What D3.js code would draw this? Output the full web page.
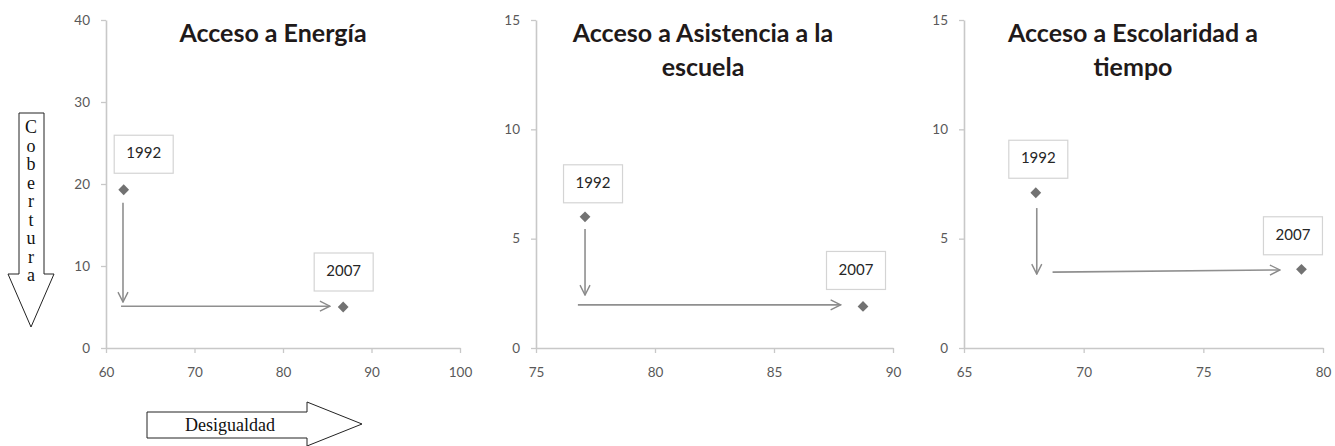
<!DOCTYPE html>
<html><head><meta charset="utf-8">
<script src="https://cdn.jsdelivr.net/npm/d3@7"></script>
<style>
html,body{margin:0;padding:0;background:#fff;}
svg{display:block;}
</style></head>
<body>
<svg id="chart" width="1335" height="446"></svg>
<script>
// ---- data ----
const years = ["1992", "2007"];
const titleEnergia = ["Acceso a Energía"];
const titleAsistencia = ["Acceso a Asistencia a la", "escuela"];
const titleEscolaridad = ["Acceso a Escolaridad a", "tiempo"];

const energiaX = [62.0, 86.8];
const energiaY = [19.3, 5.0];
const asistenciaX = [77.06, 88.74];
const asistenciaY = [6.0, 1.9];
const escolaridadX = [68.0, 79.1];
const escolaridadY = [7.1, 3.6];

const energiaXDomain = [60, 100], energiaYDomain = [0, 40];
const asistenciaXDomain = [75, 90], asistenciaYDomain = [0, 15];
const escolaridadXDomain = [65, 80], escolaridadYDomain = [0, 15];

const energiaXTicks = [60, 70, 80, 90, 100], energiaYTicks = [0, 10, 20, 30, 40];
const asistenciaXTicks = [75, 80, 85, 90], asistenciaYTicks = [0, 5, 10, 15];
const escolaridadXTicks = [65, 70, 75, 80], escolaridadYTicks = [0, 5, 10, 15];

// annotation arrows (data coords): [x1,y1,x2,y2]
const energiaArrows = [[61.92, 17.7, 61.92, 5.6], [61.7, 5.1, 85.3, 5.1]];
const asistenciaArrows = [[77.06, 5.44, 77.06, 2.42], [76.76, 1.97, 87.8, 1.97]];
const escolaridadArrows = [[68.04, 6.4, 68.04, 3.38], [68.7, 3.47, 78.2, 3.57]];

const axisLabelY = "Cobertura";
const axisLabelX = "Desigualdad";

// ---- layout ----
const panels = [
  {title: titleEnergia, xs: energiaX, ys: energiaY, xd: energiaXDomain, yd: energiaYDomain,
   xt: energiaXTicks, yt: energiaYTicks, arrows: energiaArrows,
   left: 106, right: 460, titleX: 273, labelOff: [[20, -35.5], [0.5, -35]]},
  {title: titleAsistencia, xs: asistenciaX, ys: asistenciaY, xd: asistenciaXDomain, yd: asistenciaYDomain,
   xt: asistenciaXTicks, yt: asistenciaYTicks, arrows: asistenciaArrows,
   left: 536, right: 893, titleX: 703, labelOff: [[8, -33], [-7, -36]]},
  {title: titleEscolaridad, xs: escolaridadX, ys: escolaridadY, xd: escolaridadXDomain, yd: escolaridadYDomain,
   xt: escolaridadXTicks, yt: escolaridadYTicks, arrows: escolaridadArrows,
   left: 964, right: 1323, titleX: 1133, labelOff: [[2.5, -33.5], [-8.5, -33.5]]}
];
const plotTop = 20, plotBottom = 348;
const sans = "Lato, 'Open Sans', sans-serif";
const serif = "'Liberation Serif', 'DejaVu Serif', serif";
const axisColor = "#c8c8c8", tickText = "#595959";

const svg = d3.select("#chart");
const defs = svg.append("defs");
defs.append("marker").attr("id", "ah").attr("viewBox", "0 0 12 12")
  .attr("refX", 11).attr("refY", 6).attr("markerWidth", 12).attr("markerHeight", 12)
  .attr("markerUnits", "userSpaceOnUse").attr("orient", "auto")
  .append("path").attr("d", "M1,1 L11,6 L1,11").attr("fill", "none")
  .attr("stroke", "#8a8a8a").attr("stroke-width", 1.4);

panels.forEach(p => {
  const x = d3.scaleLinear().domain(p.xd).range([p.left, p.right]);
  const y = d3.scaleLinear().domain(p.yd).range([plotBottom, plotTop]);
  const g = svg.append("g");

  const xa = g.append("g").attr("transform", `translate(0,${plotBottom})`)
    .call(d3.axisBottom(x).tickValues(p.xt).tickSize(5).tickSizeOuter(0).tickPadding(14));
  const ya = g.append("g").attr("transform", `translate(${p.left},0)`)
    .call(d3.axisLeft(y).tickValues(p.yt).tickSize(5).tickSizeOuter(0).tickPadding(11));
  [xa, ya].forEach(a => {
    a.select(".domain").attr("stroke", axisColor).attr("stroke-width", 1.6);
    a.selectAll(".tick line").attr("stroke", axisColor).attr("stroke-width", 1.3);
    a.selectAll(".tick text").attr("fill", tickText).attr("font-family", sans).attr("font-size", 13.5);
  });

  // title
  const t = g.append("text").attr("x", p.titleX).attr("y", 42).attr("text-anchor", "middle")
    .attr("font-family", sans).attr("font-weight", "bold").attr("font-size", 25).attr("fill", "#1f1a1a");
  p.title.forEach((line, i) => t.append("tspan").attr("x", p.titleX).attr("dy", i ? 34 : 0).text(line));

  // arrows
  g.selectAll("line.arr").data(p.arrows).enter().append("line")
    .attr("x1", d => x(d[0])).attr("y1", d => y(d[1]))
    .attr("x2", d => x(d[2])).attr("y2", d => y(d[3]))
    .attr("stroke", "#8f8f8f").attr("stroke-width", 1.6).attr("marker-end", "url(#ah)");

  // points
  const pts = p.xs.map((v, i) => ({x: v, y: p.ys[i], yr: years[i], off: p.labelOff[i]}));
  g.selectAll("path.pt").data(pts).enter().append("path")
    .attr("d", d3.symbol().type(d3.symbolSquare).size(58))
    .attr("transform", d => `translate(${x(d.x)},${y(d.y)}) rotate(45)`)
    .attr("fill", "#727272");

  // labels
  const lb = g.selectAll("g.lb").data(pts).enter().append("g")
    .attr("transform", d => `translate(${x(d.x) + d.off[0]},${y(d.y) + d.off[1]})`);
  lb.append("rect").attr("x", -29.5).attr("y", -19).attr("width", 59).attr("height", 38)
    .attr("fill", "#fff").attr("stroke", "#d4d4d4").attr("stroke-width", 1.2);
  lb.append("text").attr("text-anchor", "middle").attr("y", -1).attr("dy", "0.35em")
    .attr("font-family", sans).attr("font-size", 15).attr("fill", "#262626")
    .text(d => d.yr);
});

// Cobertura down arrow
svg.append("path")
  .attr("d", "M19,113 L44,113 L44,274 L54,274 L31,327 L8,274 L19,274 Z")
  .attr("fill", "#fff").attr("stroke", "#222").attr("stroke-width", 1);
svg.append("g").selectAll("text").data(axisLabelY.split("")).enter().append("text")
  .attr("x", 31).attr("y", (d, i) => 127 + i * 18.5).attr("dy", "0.35em")
  .attr("text-anchor", "middle").attr("font-family", serif).attr("font-size", 18).attr("fill", "#111")
  .text(d => d);

// Desigualdad right arrow
svg.append("path")
  .attr("d", "M147,412 L307,412 L307,402 L362,424 L307,446 L307,438 L147,438 Z")
  .attr("fill", "#fff").attr("stroke", "#222").attr("stroke-width", 1);
svg.append("text").attr("x", 230).attr("y", 425).attr("dy", "0.35em").attr("text-anchor", "middle")
  .attr("font-family", serif).attr("font-size", 18).attr("fill", "#111").text(axisLabelX);
</script>
</body></html>
